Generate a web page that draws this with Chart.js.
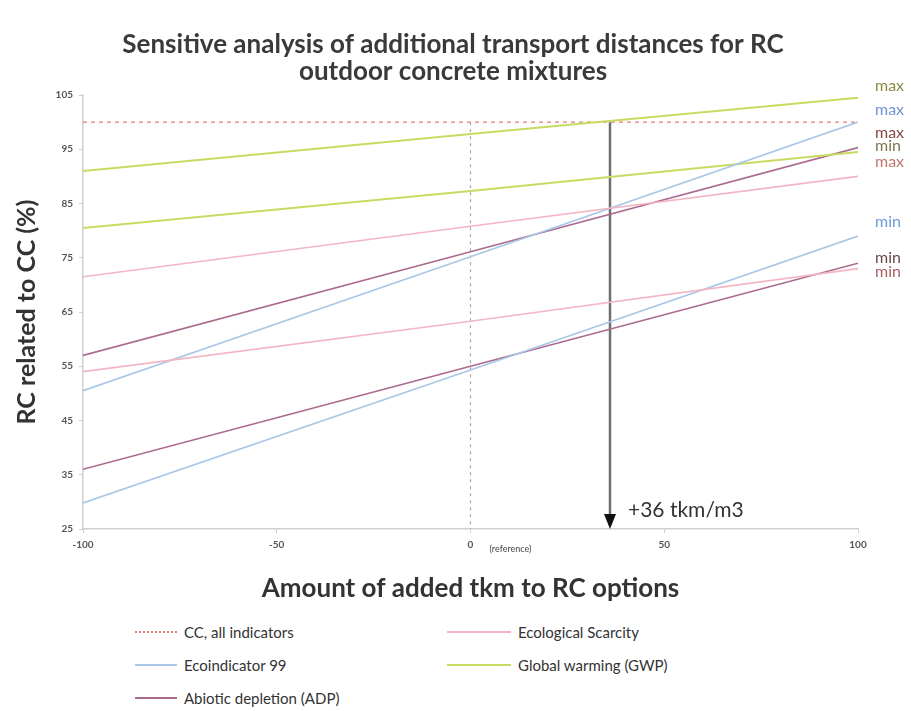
<!DOCTYPE html>
<html>
<head>
<meta charset="utf-8">
<script src="https://cdn.jsdelivr.net/npm/chart.js@4/dist/chart.umd.min.js"></script>
<style>
  html, body { margin: 0; padding: 0; background: #fff; width: 911px; height: 711px; overflow: hidden; }
  #wrap { position: absolute; left: 0; top: 0; width: 911px; height: 611px; }
  #legend { position: absolute; left: 0; top: 612px; width: 911px; height: 99px; font-family: Lato, sans-serif; font-size: 15px; color: #333; }
  .item { position: absolute; height: 20px; line-height: 20px; white-space: nowrap; }
  .sw { position: absolute; top: 9px; left: 0; height: 0; border-top: 2px solid #000; }
  .lbl { position: absolute; top: 0; }
</style>
</head>
<body>
<div id="wrap"><canvas id="c" width="911" height="611"></canvas></div>
<div id="legend"></div>
<script>
// ---- data ----
const xValues = [-100, 0, 100];
const ccAllIndicators = [100, 100, 100];
const ecoScarcityMax = [71.5, 80.8, 90];
const ecoScarcityMin = [54, 63.3, 73];
const ecoindicatorMax = [50.5, 75.2, 100];
const ecoindicatorMin = [29.8, 54.3, 79];
const gwpMax = [91, 97.8, 104.5];
const gwpMin = [80.5, 87.3, 94.5];
const adpMax = [57, 76.1, 95.3];
const adpMin = [36, 55, 74];
const referenceX = 0;
const breakEvenX = 36;
const yTicks = [25, 35, 45, 55, 65, 75, 85, 95, 105];
const xTicks = [-100, -50, 0, 50, 100];
const yMin = 25, yMax = 105, yRefTop = 100;
const titleLines = ['Sensitive analysis of additional transport distances for RC', 'outdoor concrete mixtures'];

const COL = {
  cc: '#e47b7b',
  eco: '#f3b5c3',
  ei: '#a9c7e6',
  gwp: '#c9da62',
  adp: '#ab6a8e'
};

function pts(arr) { return arr.map((v, i) => ({ x: xValues[i], y: v })); }
function line(label, arr, color, extra) {
  return Object.assign({ label, data: pts(arr), borderColor: color, backgroundColor: color,
    borderWidth: 1.6, pointRadius: 0, fill: false, tension: 0 }, extra || {});
}

const datasets = [
  line('Ecological Scarcity max', ecoScarcityMax, COL.eco),
  line('Ecological Scarcity min', ecoScarcityMin, COL.eco),
  line('Ecoindicator 99 max', ecoindicatorMax, COL.ei),
  line('Ecoindicator 99 min', ecoindicatorMin, COL.ei),
  line('Global warming max', gwpMax, COL.gwp, { borderWidth: 2 }),
  line('Global warming min', gwpMin, COL.gwp, { borderWidth: 2 }),
  line('Abiotic depletion max', adpMax, COL.adp),
  line('Abiotic depletion min', adpMin, COL.adp),
  line('CC, all indicators', ccAllIndicators, COL.cc, { borderDash: [4, 4], borderWidth: 1.3 }),
  { label: 'reference', data: [{ x: referenceX, y: yRefTop }, { x: referenceX, y: yMin }],
    borderColor: '#a8a8a8', borderWidth: 1.2, borderDash: [3, 4], pointRadius: 0 },
  { label: 'break-even', data: [{ x: breakEvenX, y: yRefTop }, { x: breakEvenX, y: yMin + 2.6 }],
    borderColor: '#6e6e6e', borderWidth: 2.5, pointRadius: 0 }
];

const endLabels = [
  { text: 'max', color: '#8c8a48', y: 106.6 },
  { text: 'max', color: '#6f95d6', y: 102.2 },
  { text: 'max', color: '#8a4848', y: 98.1 },
  { text: 'min', color: '#7c7a4e', y: 95.7 },
  { text: 'max', color: '#c07a6e', y: 92.7 },
  { text: 'min', color: '#6f9cd6', y: 81.6 },
  { text: 'min', color: '#6a4a4a', y: 75.0 },
  { text: 'min', color: '#a86060', y: 72.4 }
];

const annot = {
  id: 'annot',
  afterDraw(chart) {
    const { ctx } = chart;
    ctx.save();
    ctx.font = 'bold 26px Lato, sans-serif';
    ctx.fillStyle = '#3a3a3a';
    ctx.textAlign = 'center';
    ctx.textBaseline = 'middle';
    ctx.fillText(titleLines[0], 453, 45);
    ctx.fillText(titleLines[1], 453, 72);
    ctx.restore();
  },
  afterDatasetsDraw(chart) {
    const { ctx, scales: { x, y } } = chart;
    ctx.save();
    const ax = x.getPixelForValue(breakEvenX);
    const ay = y.getPixelForValue(yMin);
    ctx.fillStyle = '#111';
    ctx.beginPath();
    ctx.moveTo(ax - 6, ay - 15);
    ctx.lineTo(ax + 6, ay - 15);
    ctx.lineTo(ax, ay);
    ctx.closePath();
    ctx.fill();
    ctx.font = '21px Lato, sans-serif';
    ctx.fillStyle = '#333';
    ctx.textBaseline = 'middle';
    ctx.textAlign = 'left';
    ctx.fillText('+36 tkm/m3', ax + 18, ay - 19);
    ctx.font = '9px Lato, sans-serif';
    ctx.fillStyle = '#444';
    ctx.fillText('(reference)', x.getPixelForValue(referenceX) + 19, ay + 20);
    ctx.font = '16px Lato, sans-serif';
    const ex = x.getPixelForValue(100) + 17;
    endLabels.forEach(l => {
      ctx.fillStyle = l.color;
      ctx.fillText(l.text, ex, y.getPixelForValue(l.y));
    });
    ctx.restore();
  }
};

new Chart(document.getElementById('c'), {
  type: 'line',
  data: { datasets },
  options: {
    responsive: false,
    animation: false,
    layout: { padding: { left: 12, right: 53, top: 95, bottom: 6 } },
    plugins: {
      legend: { display: false },
      tooltip: { enabled: false },
      title: { display: false }
    },
    scales: {
      x: {
        type: 'linear', min: -100, max: 100,
        afterBuildTicks: s => { s.ticks = xTicks.map(v => ({ value: v })); },
        afterFit: s => { s.height = 76; },
        grid: { drawOnChartArea: false, drawTicks: true, tickLength: 4, color: '#d0d0d0' },
        border: { color: '#cfcfcf', width: 1.5 },
        ticks: { font: { family: 'Lato', size: 10, weight: 'bold' }, color: '#555', padding: 6, maxRotation: 0 },
        title: { display: true, text: 'Amount of added tkm to RC options',
          font: { family: 'Lato', size: 26, weight: 'bold', lineHeight: 1.2 }, color: '#333', padding: { top: 0, bottom: 1 } }
      },
      y: {
        type: 'linear', min: yMin, max: yMax,
        afterBuildTicks: s => { s.ticks = yTicks.map(v => ({ value: v })); },
        afterFit: s => { s.width = 71; },
        grid: { drawOnChartArea: false, drawTicks: true, tickLength: 4, color: '#d0d0d0' },
        border: { color: '#cfcfcf', width: 1.5 },
        ticks: { font: { family: 'Lato', size: 10, weight: 'bold' }, color: '#555', padding: 6 },
        title: { display: true, text: 'RC related to CC (%)',
          font: { family: 'Lato', size: 25, weight: 'bold', lineHeight: 1.2 }, color: '#333', padding: { top: 0, bottom: 0 } }
      }
    }
  },
  plugins: [annot]
});

const legendItems = [
  { text: 'CC, all indicators', color: COL.cc, dash: true, col: 0, row: 0 },
  { text: 'Ecological Scarcity', color: COL.eco, col: 1, row: 0 },
  { text: 'Ecoindicator 99', color: COL.ei, col: 0, row: 1 },
  { text: 'Global warming (GWP)', color: COL.gwp, col: 1, row: 1 },
  { text: 'Abiotic depletion (ADP)', color: COL.adp, col: 0, row: 2 }
];
const colX = [135, 447];
const swatchW = [42, 64];
const rowY = [10, 43, 76];
const lg = document.getElementById('legend');
legendItems.forEach(it => {
  const d = document.createElement('div');
  d.className = 'item';
  d.style.left = colX[it.col] + 'px';
  d.style.top = rowY[it.row] + 'px';
  const s = document.createElement('span');
  s.className = 'sw';
  s.style.width = swatchW[it.col] + 'px';
  s.style.borderTop = (it.dash ? '2px dotted ' : '2px solid ') + it.color;
  const t = document.createElement('span');
  t.className = 'lbl';
  t.style.left = (swatchW[it.col] + 7) + 'px';
  t.textContent = it.text;
  d.appendChild(s); d.appendChild(t);
  lg.appendChild(d);
});
</script>
</body>
</html>
